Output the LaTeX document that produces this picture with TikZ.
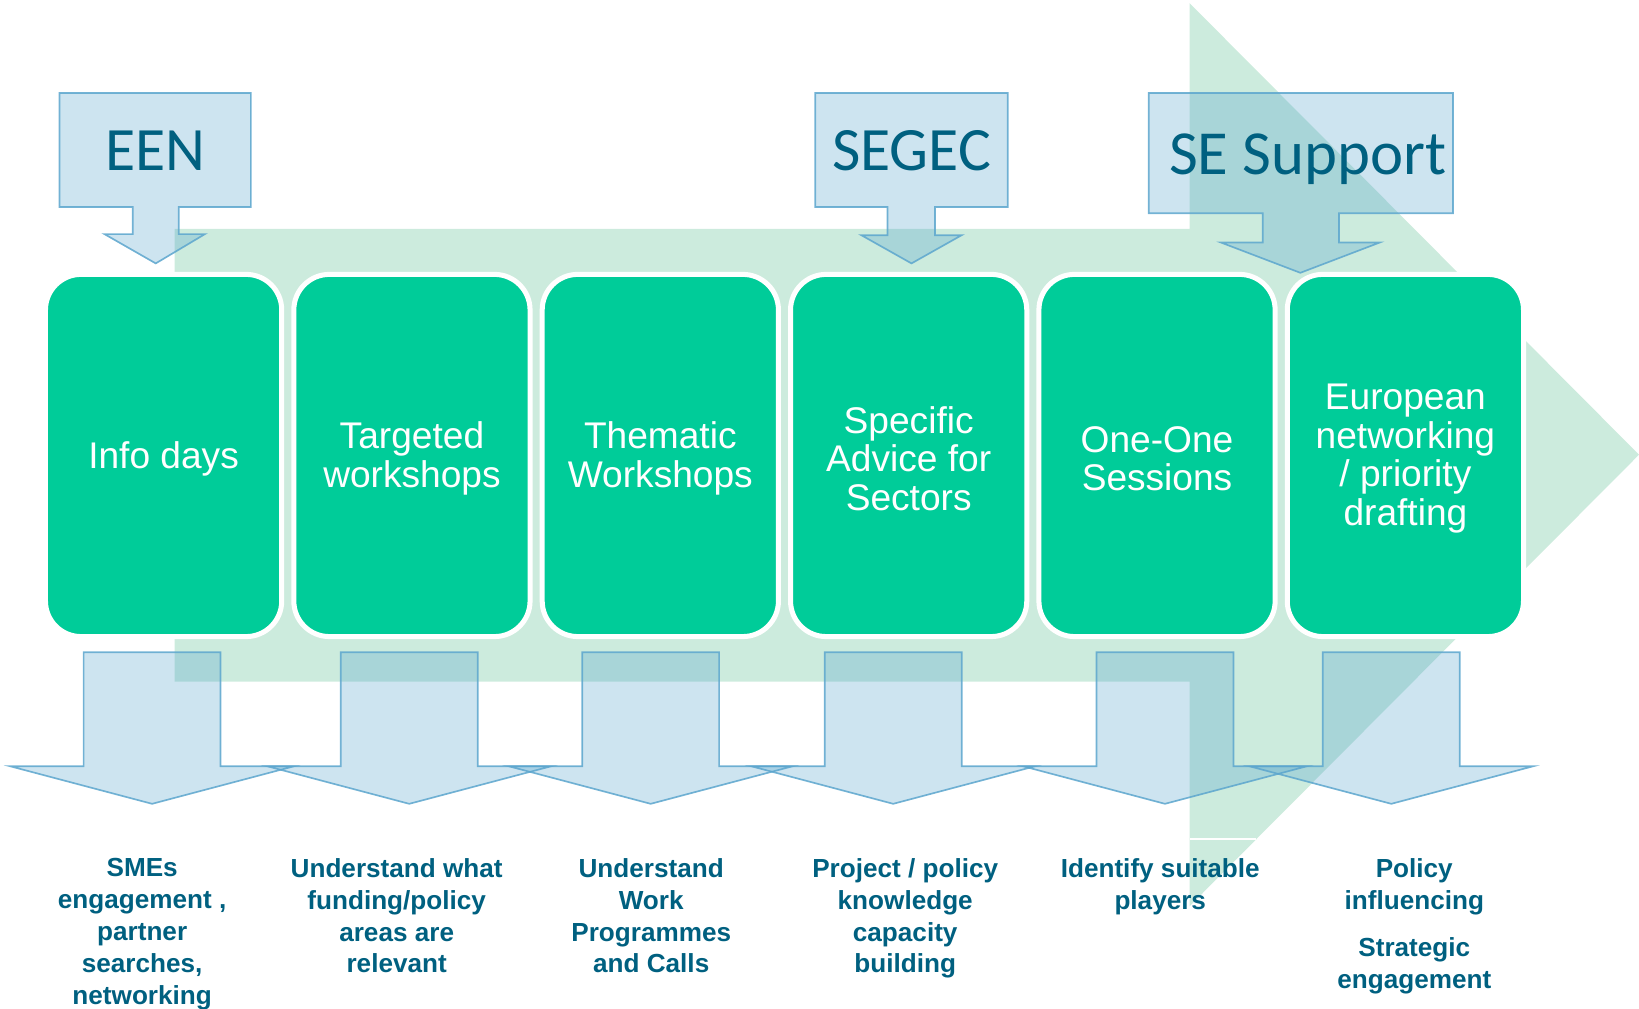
\documentclass[tikz,border=0pt]{standalone}
\usepackage{fontspec}
\setmainfont{Liberation Sans}
\newfontfamily\calfont{Carlito}
\definecolor{boxgreen}{RGB}{0,204,153}
\definecolor{arrowgreen}{RGB}{204,235,221}
\definecolor{calfill}{RGB}{88,165,205}
\definecolor{calline}{RGB}{92,166,206}
\definecolor{tealtext}{RGB}{0,96,128}
\tikzset{
  stagebox/.style={rectangle, rounded corners=34pt, minimum width=226pt, minimum height=346.5pt,
    fill=boxgreen, draw=white, line width=4.8pt},
  stagetext/.style={text=white, align=center, inner sep=0pt,
    font=\fontsize{35.5}{37}\selectfont},
  callshape/.style={fill=calfill, fill opacity=0.3, draw=calline, draw opacity=0.85, line width=1.6pt, line join=miter},
  calllabel/.style={text=tealtext, font=\calfont\fontsize{59}{60}\selectfont, anchor=base, inner sep=0pt},
  outtext/.style={text=tealtext, font=\bfseries\fontsize{25}{30.5}\selectfont, align=center, anchor=north, inner sep=0pt}
}
\begin{document}
\begin{tikzpicture}[x=1pt,y=-1pt]
\useasboundingbox (0,0) rectangle (1568,965);
% big background arrow
\fill[arrowgreen] (167,219) -- (1138,219) -- (1138,3) -- (1568,435) -- (1138,867) -- (1138,652) -- (167,652) -- cycle;
\draw[white, line width=2pt] (1138,803) -- (1202,803);
% stage boxes
\node[stagebox] (b1) at (156.5,435.75) {};
\node[stagebox] (b2) at (394.1,435.75) {};
\node[stagebox] (b3) at (631.7,435.75) {};
\node[stagebox] (b4) at (869.3,435.75) {};
\node[stagebox] (b5) at (1106.9,435.75) {};
\node[stagebox] (b6) at (1344.5,435.75) {};
\node[stagetext] (t1) at ([yshift=-3pt]b1.center) {Info days};
\node[stagetext] (t2) at ([yshift=-3pt]b2.center) {Targeted\\workshops};
\node[stagetext] (t3) at ([yshift=-3pt]b3.center) {Thematic\\Workshops};
\node[stagetext] (t4) at ([yshift=-3pt]b4.center) {Specific\\Advice for\\Sectors};
\node[stagetext] (t5) at ([yshift=-3pt]b5.center) {One-One\\Sessions};
\node[stagetext] (t6) at ([yshift=-3pt]b6.center) {European\\networking\\/ priority\\drafting};
% top callouts
\path[callshape] (57,89) -- (240,89) -- (240,198) -- (171,198) -- (171,224) -- (196,224) -- (149,252) -- (100,224) -- (127,224) -- (127,198) -- (57,198) -- cycle;
\path[callshape] (780,89) -- (964,89) -- (964,198) -- (894.5,198) -- (894.5,225) -- (920,225) -- (872,252) -- (824,225) -- (849,225) -- (849,198) -- (780,198) -- cycle;
\path[callshape] (1099,89) -- (1390,89) -- (1390,204) -- (1281,204) -- (1281,232) -- (1320,232) -- (1244,261) -- (1168,232) -- (1208,232) -- (1208,204) -- (1099,204) -- cycle;
\node[calllabel] (een) at (149,163) {EEN};
\node[calllabel] (segec) at (872,163) {SEGEC};
\node[calllabel, font=\calfont\fontsize{60}{61}\selectfont] (sesup) at (1251,167) {SE Support};
% bottom callouts
\foreach \c in {145.5,391.5,622.5,854.5,1114.5,1331}{
  \path[callshape] (\c-65.5,624) -- (\c+65.5,624) -- (\c+65.5,733) -- (\c+136,733) -- (\c,769) -- (\c-136,733) -- (\c-65.5,733) -- cycle;
}
% outcome texts
\node[outtext] (o1) at (136,821) {SMEs\\engagement ,\\partner\\searches,\\networking};
\node[outtext] (o2) at (379.5,821) {Understand what\\funding/policy\\areas are\\relevant};
\node[outtext] (o3) at (623,821) {Understand\\Work\\Programmes\\and Calls};
\node[outtext] (o4) at (866,821) {Project / policy\\knowledge\\capacity\\building};
\node[outtext] (o5) at (1110,821) {Identify suitable\\players};
\node[outtext] (o6) at (1353,821) {Policy\\influencing\\[15pt]Strategic\\engagement};
\end{tikzpicture}
\end{document}
